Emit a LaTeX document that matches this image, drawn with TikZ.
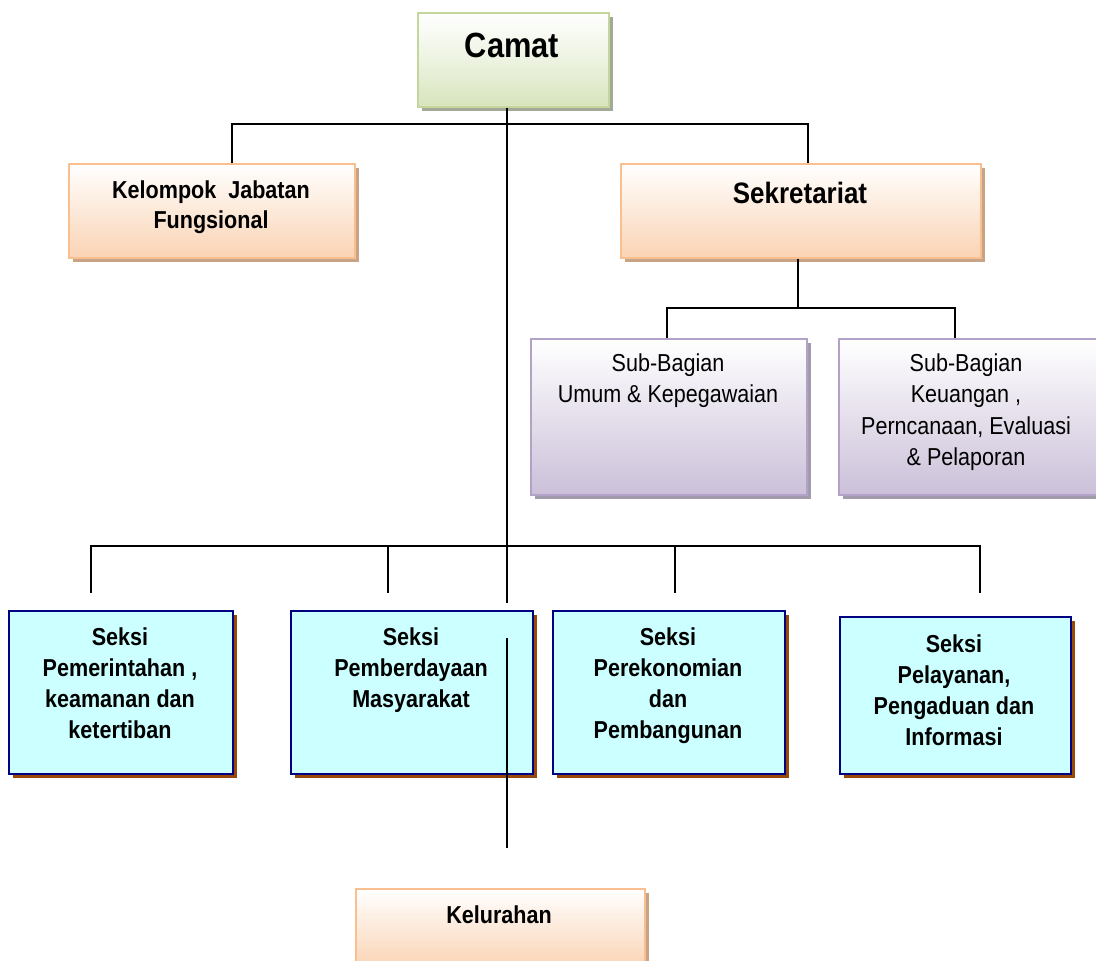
\documentclass[tikz,border=0pt]{standalone}
\usepackage{fontspec}
\setmainfont{Liberation Sans}[FakeStretch=0.88]
\usetikzlibrary{shadows}
\definecolor{gborder}{HTML}{C3D69B}
\definecolor{gfill}{HTML}{D7E4BC}
\definecolor{gshadow}{HTML}{A4A898}
\definecolor{pborder}{HTML}{F9BF8F}
\definecolor{pfill}{HTML}{FAD3B3}
\definecolor{pshadow}{HTML}{C9A386}
\definecolor{vborder}{HTML}{B3A2C7}
\definecolor{vfill}{HTML}{CBC0D9}
\definecolor{vshadow}{HTML}{A29BAB}
\definecolor{sfill}{HTML}{CCFFFF}
\definecolor{sborder}{HTML}{000080}
\definecolor{sshadow}{HTML}{984807}
\tikzset{
  boxbase/.style={rectangle, inner sep=0pt, anchor=north west},
  greenbox/.style={boxbase, draw=gborder, line width=1.8pt, top color=white, bottom color=gfill, middle color=gfill!45,
     drop shadow={shadow xshift=4pt, shadow yshift=-4pt, fill=gshadow, opacity=1}},
  peachbox/.style={boxbase, draw=pborder, line width=1.8pt, top color=white, bottom color=pfill, middle color=pfill!50,
     drop shadow={shadow xshift=4pt, shadow yshift=-4pt, fill=pshadow, opacity=1}},
  violetbox/.style={boxbase, draw=vborder, line width=1.8pt, top color=white, bottom color=vfill, middle color=vfill!50,
     drop shadow={shadow xshift=4pt, shadow yshift=-4pt, fill=vshadow, opacity=1}},
  seksibox/.style={boxbase, draw=sborder, line width=2.4pt, fill=sfill,
     drop shadow={shadow xshift=4pt, shadow yshift=-4pt, fill=sshadow, opacity=1}},
  txt/.style={anchor=base, align=center, inner sep=0pt, font=\bfseries\fontsize{24.5}{31}\selectfont},
  txtreg/.style={anchor=base, align=center, inner sep=0pt, font=\fontsize{24.5}{31.5}\selectfont},
  conn/.style={draw=black, line width=1.5pt},
}
\begin{document}
\begin{tikzpicture}[x=1pt, y=-1pt]
\useasboundingbox (0,0) rectangle (1096,961);
% boxes
\node[greenbox, minimum width=191pt, minimum height=94pt] (camat) at (417,12) {};
\node[peachbox, minimum width=286pt, minimum height=94pt] (kjf) at (68,163) {};
\node[peachbox, minimum width=360pt, minimum height=94pt] (sek) at (620,163) {};
\node[violetbox, minimum width=276pt, minimum height=156pt] (sb1) at (530,338) {};
\node[violetbox, minimum width=276pt, minimum height=156pt] (sb2) at (838,338) {};
\node[seksibox, minimum width=224pt, minimum height=163pt] (s1) at (8,610) {};
\node[seksibox, minimum width=242pt, minimum height=163pt] (s2) at (290,610) {};
\node[seksibox, minimum width=232pt, minimum height=163pt] (s3) at (552,610) {};
\node[seksibox, minimum width=231pt, minimum height=157pt] (s4) at (839,616) {};
\node[peachbox, minimum width=289pt, minimum height=80pt] (kel) at (355,888) {};
% texts (anchor = baseline of the last line)
\node[txt, font=\bfseries\fontsize{35}{40}\selectfont] (camat-t) at (512,57) {Camat};
\node[txt, font=\bfseries\fontsize{24.5}{30}\selectfont] (kjf-t) at (211,228) {Kelompok\ \ Jabatan\\Fungsional};
\node[txt, font=\bfseries\fontsize{29.5}{34}\selectfont] (sek-t) at (800,203) {Sekretariat};
\node[txtreg] (sb1-t) at (668,402.5) {Sub-Bagian\\Umum \& Kepegawaian};
\node[txtreg] (sb2-t) at (966,465.5) {Sub-Bagian\\Keuangan ,\\Perncanaan, Evaluasi\\\& Pelaporan};
\node[txt] (s1-t) at (120,738) {Seksi\\Pemerintahan ,\\keamanan dan\\ketertiban};
\node[txt] (s2-t) at (411,707) {Seksi\\Pemberdayaan\\Masyarakat};
\node[txt] (s3-t) at (668,738) {Seksi\\Perekonomian\\dan\\Pembangunan};
\node[txt] (s4-t) at (954,745) {Seksi\\Pelayanan,\\Pengaduan dan\\Informasi};
\node[txt] (kel-t) at (499,923) {Kelurahan};
% coordinates
\coordinate (trunk) at (507,603);
\coordinate (kdrop) at (232,124);
\coordinate (sdrop) at (808,124);
\coordinate (sbus) at (798,308);
\coordinate (sb1drop) at (667,308);
\coordinate (sb2drop) at (955,308);
\coordinate (d1) at (91,546);
\coordinate (d2) at (388,546);
\coordinate (d3) at (675,546);
\coordinate (d4) at (980,546);
\coordinate (e1) at (91,593);
\coordinate (e2) at (388,593);
\coordinate (e3) at (675,593);
\coordinate (e4) at (980,593);
\coordinate (lt1) at (507,638);
\coordinate (lt2) at (507,848);
% connectors
\draw[conn] (camat.south -| trunk) -- (trunk);
\draw[conn] (kdrop |- kjf.north) -- (kdrop) -- (sdrop) -- (sdrop |- sek.north);
\draw[conn] (sbus |- sek.south) -- (sbus);
\draw[conn] (sb1drop |- sb1.north) -- (sb1drop) -- (sb2drop) -- (sb2drop |- sb2.north);
\draw[conn] (e1) -- (d1) -- (d4) -- (e4);
\draw[conn] (d2) -- (e2);
\draw[conn] (d3) -- (e3);
\draw[conn] (lt1) -- (lt2);
\end{tikzpicture}
\end{document}
